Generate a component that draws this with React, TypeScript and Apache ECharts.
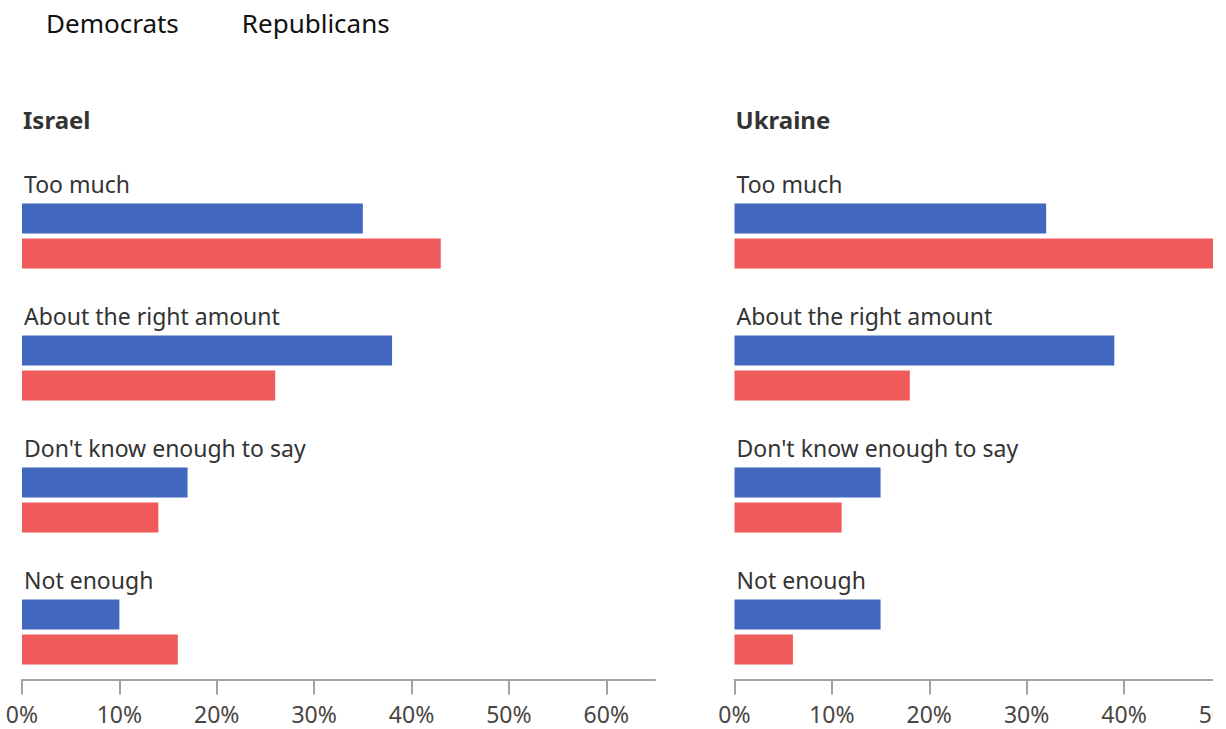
import React, { useEffect, useRef } from "react";
import * as echarts from "echarts";

const categories = ["Too much", "About the right amount", "Don't know enough to say", "Not enough"];
const panels = ["Israel", "Ukraine"];
const seriesNames = ["Democrats", "Republicans"];
const israelDem = [35, 38, 17, 10];
const israelRep = [43, 26, 14, 16];
const ukraineDem = [32, 39, 15, 15];
const ukraineRep = [50, 18, 11, 6];
const xTicksMax = 65;

const BLUE = "#4267BE";
const RED = "#EF5A5B";
const FONT = "Noto Sans";

export default function App() {
  const ref = useRef<HTMLDivElement>(null);
  useEffect(() => {
    if (!ref.current) return;
    const chart = echarts.init(ref.current, null, { renderer: "svg" });
    const gridLefts = [22, 734.5];
    const gridWidth = 633;
    const grids = gridLefts.map((l) => ({ left: l, width: gridWidth, top: 170, height: 528 }));
    const xAxes = gridLefts.map((_, i) => ({
      type: "value",
      gridIndex: i,
      min: 0,
      max: xTicksMax,
      interval: 10,
      offset: -18.5,
      splitLine: { show: false },
      axisLine: { show: true, lineStyle: { color: "#A8A19A", width: 2 } },
      axisTick: { show: true, length: 15, lineStyle: { color: "#A8A19A", width: 2 } },
      axisLabel: {
        formatter: "{value}%",
        fontSize: 23,
        fontFamily: FONT,
        color: "#4A4542",
        margin: 23,
        showMaxLabel: false,
      },
    }));
    const yAxes = gridLefts.map((_, i) => ({
      type: "category",
      gridIndex: i,
      data: categories,
      inverse: true,
      axisLine: { show: false },
      axisTick: { show: false },
      axisLabel: {
        inside: true,
        margin: 2,
        verticalAlign: "middle",
        formatter: (v: string) => `{name|${v}}\n{sp|}`,
        rich: {
          name: { fontSize: 23, fontFamily: FONT, color: "#333333", lineHeight: 24, height: 24 },
          sp: { height: 104, lineHeight: 104, fontSize: 10 },
        },
      },
    }));
    const data = [
      [israelDem, israelRep],
      [ukraineDem, ukraineRep],
    ];
    const series: any[] = [];
    data.forEach((pair, gi) => {
      pair.forEach((vals, si) => {
        series.push({
          type: "bar",
          name: seriesNames[si],
          xAxisIndex: gi,
          yAxisIndex: gi,
          data: vals,
          barWidth: 30,
          barGap: "17%",
          itemStyle: { color: si === 0 ? BLUE : RED },
        });
      });
    });
    chart.setOption({
      animation: false,
      title: panels.map((p, i) => ({
        text: p,
        left: gridLefts[i] + 1,
        top: 107,
        padding: 0,
        textStyle: { fontSize: 24, fontWeight: "bold", fontFamily: FONT, color: "#333333" },
      })),
      legend: {
        left: 22,
        top: 10,
        itemWidth: 19,
        itemHeight: 14,
        itemGap: 39,
        padding: 0,
        itemStyle: { opacity: 0 },
        textStyle: { fontSize: 26, fontFamily: FONT, color: "#111111" },
        data: seriesNames,
      },
      grid: grids,
      xAxis: xAxes,
      yAxis: yAxes,
      series,
    });
    return () => chart.dispose();
  }, []);
  return (
    <div style={{ position: "absolute", left: 0, top: 0, width: 1226, height: 729, background: "#fff" }}>
      <div style={{ position: "absolute", left: 0, top: 0, width: 1213, height: 729, overflow: "hidden" }}>
        <div ref={ref} style={{ width: 1400, height: 729 }} />
      </div>
    </div>
  );
}
